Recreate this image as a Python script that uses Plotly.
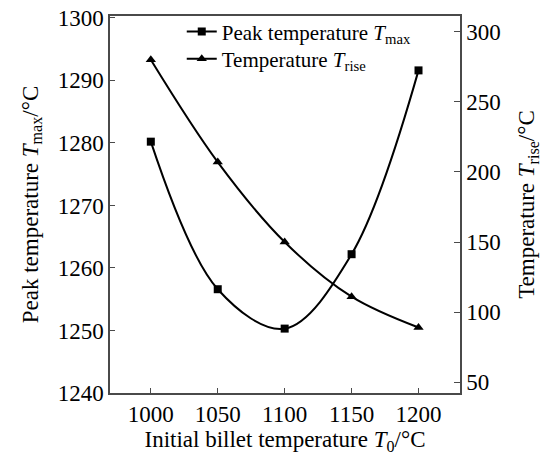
import plotly.graph_objects as go

t0 = [1000, 1050, 1100, 1150, 1200]
t_max = [1280.2, 1256.6, 1250.3, 1262.2, 1291.6]
t_rise = [280, 207, 150, 111, 89]

x_ticks = [1000, 1050, 1100, 1150, 1200]
y1_ticks = [1240, 1250, 1260, 1270, 1280, 1290, 1300]
y2_ticks = [50, 100, 150, 200, 250, 300]

FONT = "Liberation Serif"
FS = 23
AX = "#4a4a4a"

fig = go.Figure()
fig.add_trace(go.Scatter(
    x=t0, y=t_max, mode="lines+markers", line=dict(color="black", width=2, shape="spline", smoothing=1.0),
    marker=dict(symbol="square", size=8, color="black"),
    name="Peak temperature <i>T</i><sub>max</sub>", yaxis="y", legend="legend"))
fig.add_trace(go.Scatter(
    x=t0, y=t_rise, mode="lines+markers", line=dict(color="black", width=2, shape="spline", smoothing=1.0),
    marker=dict(symbol="triangle-up", size=9, color="black"),
    name="Temperature <i>T</i><sub>rise</sub>", yaxis="y2", legend="legend2"))

leg_common = dict(xanchor="left", yanchor="middle", bgcolor="rgba(0,0,0,0)",
                  font=dict(family=FONT, size=21), itemwidth=30)

fig.update_layout(
    width=542, height=455,
    margin=dict(l=110, r=82, t=16, b=62, autoexpand=False),
    paper_bgcolor="white", plot_bgcolor="white",
    font=dict(family=FONT, size=FS, color="black"),
    showlegend=True,
    legend=dict(x=0.205, y=0.958, **leg_common),
    legend2=dict(x=0.205, y=0.886, **leg_common),
    xaxis=dict(range=[969.5, 1231], tickvals=x_ticks, ticks="inside", ticklen=5, tickcolor=AX,
               showline=True, linecolor=AX, linewidth=1.5, mirror=True, showgrid=False, zeroline=False,
               tickfont=dict(family=FONT, size=FS), automargin=False,
               title=dict(text="Initial billet temperature <i>T</i><sub>0</sub>/°C", font=dict(family=FONT, size=FS), standoff=2)),
    yaxis=dict(range=[1240, 1300.3], tickvals=y1_ticks, ticks="inside", ticklen=5, tickcolor=AX,
               showline=True, linecolor=AX, linewidth=1.5, showgrid=False, zeroline=False,
               tickfont=dict(family=FONT, size=FS), automargin=False,
               title=dict(text="Peak temperature <i>T</i><sub>max</sub>/°C", font=dict(family=FONT, size=FS), standoff=13)),
    yaxis2=dict(range=[42.3, 311.2], tickvals=y2_ticks, ticks="inside", ticklen=6, tickcolor=AX,
                overlaying="y", side="right", showline=True, linecolor=AX, linewidth=1.5,
                showgrid=False, zeroline=False, tickfont=dict(family=FONT, size=FS), automargin=False,
                title=dict(text="Temperature <i>T</i><sub>rise</sub>/°C", font=dict(family=FONT, size=FS), standoff=18)),
)

fig.write_html("out.html")
